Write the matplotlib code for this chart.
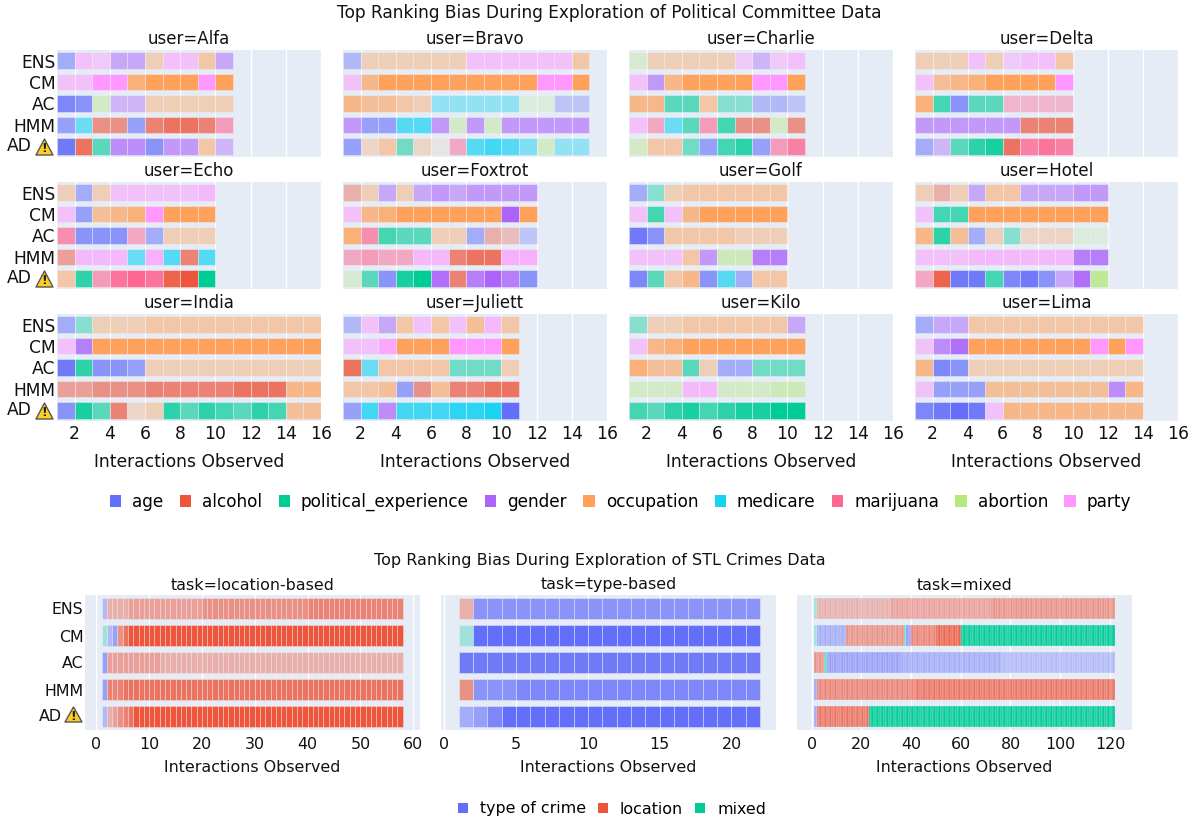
import matplotlib
matplotlib.use("Agg")
import matplotlib.pyplot as plt
from matplotlib.colors import to_rgba
from matplotlib.patches import Patch, Polygon

W, H = 1194, 823

colors = {"a": "#636EFA", "l": "#EF553B", "p": "#00CC96", "g": "#AB63FA", "o": "#FFA15A",
          "d": "#19D3F3", "m": "#FF6692", "b": "#B6E880", "y": "#FF97FF"}
crime_colors = {"a": "#636EFA", "l": "#EF553B", "p": "#00CC96"}
political_names = ["age", "alcohol", "political_experience", "gender", "occupation",
                   "medicare", "marijuana", "abortion", "party"]
crime_names = ["type of crime", "location", "mixed"]
models = ["ENS", "CM", "AC", "HMM", "AD"]

# one token per cell: letter = top bias, number = opacity in tenths, *n = repeated cells
alfa = ["a5 y5 y4 g5 g5 o4 y5 y5 o5 g5", "y5 y5 y10 y10 o8 o10 o10 o10 y10 o10",
        "a8 a7 b4 g4 g4 o4 o4 o4 o4 o4", "a6 d6 l6 l6 a6 l7 l8 l8 l7 m6",
        "a9 l8 p6 g7 g7 a7 g6 g6 o5 g4"]
bravo = ["a4 o4*6 y5*6 o5", "y5 o7 o10*9 y10*2 o10",
         "o7 o6 o6 o5 o4 d4*5 b2*2 a3*2", "g6 a6 a6 d7 d7 g6 b4 g6 b4 g6*5",
         "a6 o3 o5 p5 o3 o1 m5 d7 d8 d7 d5 b4 d4 d4"]
charlie = ["b3 o4*5 y4 g4 y4 y5", "y5 g6 o7 o10*4 y10 y10 o10",
           "o7 o7 p6 p6 o5 p4 p4 a4 a4 a3", "y5 m5 d6 p6 m6 p7 l6 l6 b4 l6",
           "b4 o5 o5 p5 a6 p7 p8 a6 m6 m8"]
delta = ["o4 o4 o4 y5 o4 y4 y5 y5 o5", "y5 o6 o7 o8 o10*4 y10",
         "o8 p7 a7 p6 p6 m4*4", "g6*6 l7*3", "a5 g4 p6 p8 p9 l8 m8 m9 m8"]
echo = ["o4 a5 o4 y5*5 y6", "y5 a6 o6 o7 o8 y10 o10*3",
        "m7 a7 a7 a7 m5 a5 o4*3", "l5 y6 y6 y6 d6 y7 d7 l7 d7",
        "o5 p8 m6 m9 m10 m9 l9 l10 p10"]
foxtrot = ["l4 o4 g5 o4 g5 g6 g5 g6 g6 g6 g6", "y5 o7 o8 o10*6 g10 o10",
           "o8 m7 p7 p6 p6 o4 o4 a5 l4 l3 a3", "m5 m6 m5 m5 y6 y6 l7 l8 l8 y7 y7",
           "b3 p6 a7 p9 p10 g9 l7 g8 g10 g8 a7"]
golf = ["a5 p4 o4 o5*6", "y5 p7 y5 o7 o10*5", "a9 a7 o5*4 o4*3",
        "y5*3 o5 g6 b5 b5 g8 g8", "a8 p6 o5 o7 a7 d7 a5 o5 o5"]
hotel = ["o4 l4 o4 g5 o5 o5 g5 g5 g5 g6 g6", "y5 p7 p7 o10*8",
         "o7 p8 o6 a5 o4 p4 o3 o3 o3 b2 b2", "y5*3 y6*6 g8 g8",
         "m5 l9 a9 a9 p7 a8 a9 a7 g5 g9 b8"]
india = ["a5 p4 o4*3 o5*10", "y5 g8 o10*13", "a9 p8 a7 a7 a6 o4*10",
         "l5 l5 l6 l6 l6 l7*5 l8*3 o7 o7", "a7 p9 p6 l7 o3 o4 p8 p6 p8 p7 p6 p8 p7 o6 o6"]
juliett = ["a4 y5 g5 o5 y5 o5 y5 o6 y6 o5", "y5 y5 y8 o10*3 y10*3 o10",
           "l8 d6 o5*4 p5*3 o4", "o5 o5 o6 a6 l6 o6 l7 l7 l8 l8",
           "a6 d8 g7 d8 d8 d8 d9 d9 d10 a10"]
kilo = ["p4 o4 o4 o5*6 g5", "y5 o7 o8 o10*7", "o8 o6 o6 p6 o4 a5 a5 p5 p5 p5",
        "b4 b4 b4 y6 y6 b4*3 b5 b5", "p7 p6 p8 p9 p7 p8 p9 p9 p10 p10"]
lima = ["a5 g5 g5 o5*10", "y5 g7 g9 o10*7 y10 o10 y10", "o7 a8 a7 o4*10",
        "y5 a6 a6 a6 o6*7 g7 o7", "a8 a9 a10 a9 y5 o7*8"]

location_based = ["a4 l4*4 l5*14 l6*20 l7*18", "p3 a4 a6 l6 l8 l10*52", "a6 l5*10 l4*46",
                  "a6 l7*3 l8*53", "a4 l4 l5 l6 l7 l8 l10*51"]
type_based = ["l4 a7*20", "p3 a10*20", "a9*21", "l6 a7*3 a8*17", "a5 a6 a8 a10*18"]
mixed = ["p3 l4*30 l5*40 l6*50", "p3 a5*12 l6*23 p5 a6*2 l7*10 l9*10 p10*62",
         "l6*4 p5 a6*30 a5*40 a4*46", "a5 l7*40 l8*80", "a5 l8*21 p10*99"]

users = ["Alfa", "Bravo", "Charlie", "Delta", "Echo", "Foxtrot", "Golf", "Hotel",
         "India", "Juliett", "Kilo", "Lima"]
user_rows = [alfa, bravo, charlie, delta, echo, foxtrot, golf, hotel, india, juliett, kilo, lima]
tasks = ["location-based", "type-based", "mixed"]
task_rows = [location_based, type_based, mixed]

plt.rcParams["font.family"] = "DejaVu Sans"
fig = plt.figure(figsize=(W / 100, H / 100), dpi=100)


def make_ax(x0, x1, y0, y1):
    ax = fig.add_axes([x0 / W, 1 - y1 / H, (x1 - x0) / W, (y1 - y0) / H])
    ax.set_facecolor("#E5ECF6")
    for s in ax.spines.values():
        s.set_visible(False)
    ax.grid(axis="x", color="white", lw=1)
    ax.set_axisbelow(True)
    ax.tick_params(length=0, colors="#111111")
    return ax


def draw_rows(ax, rows, pal, lw=0.5):
    for i, row in enumerate(rows):
        left = 1
        for tok in row.split():
            tok, _, rep = tok.partition("*")
            for k in range(int(rep or 1)):
                ax.barh(i, 1, left=left, height=0.77, color=to_rgba(pal[tok[0]], int(tok[1:]) / 10),
                        edgecolor=(0.93, 0.95, 0.98, 0.6), linewidth=lw)
                left += 1
    ax.set_ylim(4.5, -0.5)


def warning_icon(x0, x1, y0, y1):
    pts = [((x0 + x1) / 2 / W, 1 - y0 / H), (x0 / W, 1 - y1 / H), (x1 / W, 1 - y1 / H)]
    fig.add_artist(Polygon(pts, closed=True, transform=fig.transFigure, facecolor="#FFCC22",
                           edgecolor="#555555", lw=1, joinstyle="round"))
    fig.text((x0 + x1) / 2 / W, 1 - (y0 + 0.62 * (y1 - y0)) / H, "!", fontsize=9, fontweight="bold",
             ha="center", va="center", color="#222222")


def label_rows(ax, ad_offset, size):
    ax.set_yticks(range(5))
    ax.set_yticklabels(models[:4] + [""], fontsize=size)
    ax.tick_params(axis="y", pad=1)
    ax.annotate("AD", xy=(0, 4), xycoords=ax.get_yaxis_transform(), xytext=(ad_offset, 0),
                textcoords="offset pixels", ha="right", va="center", fontsize=size, color="#111111")


col_x = [(57, 321), (343, 607), (629, 893), (915, 1178)]
row_y = [(50, 157), (182, 289), (314, 421)]
for n, user in enumerate(users):
    r, c = n // 4, n % 4
    ax = make_ax(col_x[c][0], col_x[c][1], row_y[r][0], row_y[r][1])
    draw_rows(ax, user_rows[n], colors)
    ax.set_xlim(1, 16)
    ax.set_xticks(range(2, 17, 2))
    ax.tick_params(axis="x", labelsize=12.3, pad=3)
    if r == 2:
        ax.set_xlabel("Interactions Observed", fontsize=12.3, labelpad=7, color="#111111")
    else:
        ax.tick_params(axis="x", labelbottom=False)
    if c == 0:
        label_rows(ax, -25, 12.3)
        warning_icon(36, 53, row_y[r][0] + 89, row_y[r][0] + 105)
    else:
        ax.set_yticks(range(5))
        ax.tick_params(axis="y", labelleft=False)
    fig.text(sum(col_x[c]) / 2 / W, 1 - (row_y[r][0] - 11) / H, "user=" + user, fontsize=12,
             ha="center", va="center", color="#111111")

task_x = [(85, 420), (441, 776), (797, 1132)]
task_lim = [(-2.14, 61.3), (-0.23, 23.1), (-5.9, 128.9)]
task_ticks = [range(0, 61, 10), range(0, 21, 5), range(0, 121, 20)]
task_lw = [0.45, 0.5, 0.35]
for n, task in enumerate(tasks):
    ax = make_ax(task_x[n][0], task_x[n][1], 595, 730)
    draw_rows(ax, task_rows[n], crime_colors, task_lw[n])
    ax.set_xlim(task_lim[n])
    ax.set_xticks(list(task_ticks[n]))
    ax.tick_params(axis="x", labelsize=11.4, pad=5)
    ax.set_xlabel("Interactions Observed", fontsize=11.4, labelpad=6, color="#111111")
    if n == 0:
        label_rows(ax, -23, 11.4)
        warning_icon(65, 82, 707, 722)
    else:
        ax.set_yticks(range(5))
        ax.tick_params(axis="y", labelleft=False)
    fig.text(sum(task_x[n]) / 2 / W, 1 - 585 / H, "task=" + task, fontsize=11.4,
             ha="center", va="center", color="#111111")

fig.text(609 / W, 1 - 13 / H, "Top Ranking Bias During Exploration of Political Committee Data",
         fontsize=12.25, ha="center", va="center", color="#111111")
fig.text(600 / W, 1 - 561 / H, "Top Ranking Bias During Exploration of STL Crimes Data",
         fontsize=11.55, ha="center", va="center", color="#111111")

h1 = [Patch(facecolor=c, edgecolor="none") for c in colors.values()]
fig.legend(h1, political_names, ncol=9, loc="center", bbox_to_anchor=(620.5 / W, 1 - 502 / H), frameon=False,
           fontsize=12.2, handlelength=0.66, handleheight=0.66, handletextpad=0.65, columnspacing=0.97)
h2 = [Patch(facecolor=c, edgecolor="none") for c in crime_colors.values()]
fig.legend(h2, crime_names, ncol=3, loc="center", bbox_to_anchor=(612 / W, 1 - 809 / H), frameon=False,
           fontsize=11.4, handlelength=0.62, handleheight=0.62, handletextpad=0.75, columnspacing=0.78)

fig.savefig("out.png", dpi=100)
